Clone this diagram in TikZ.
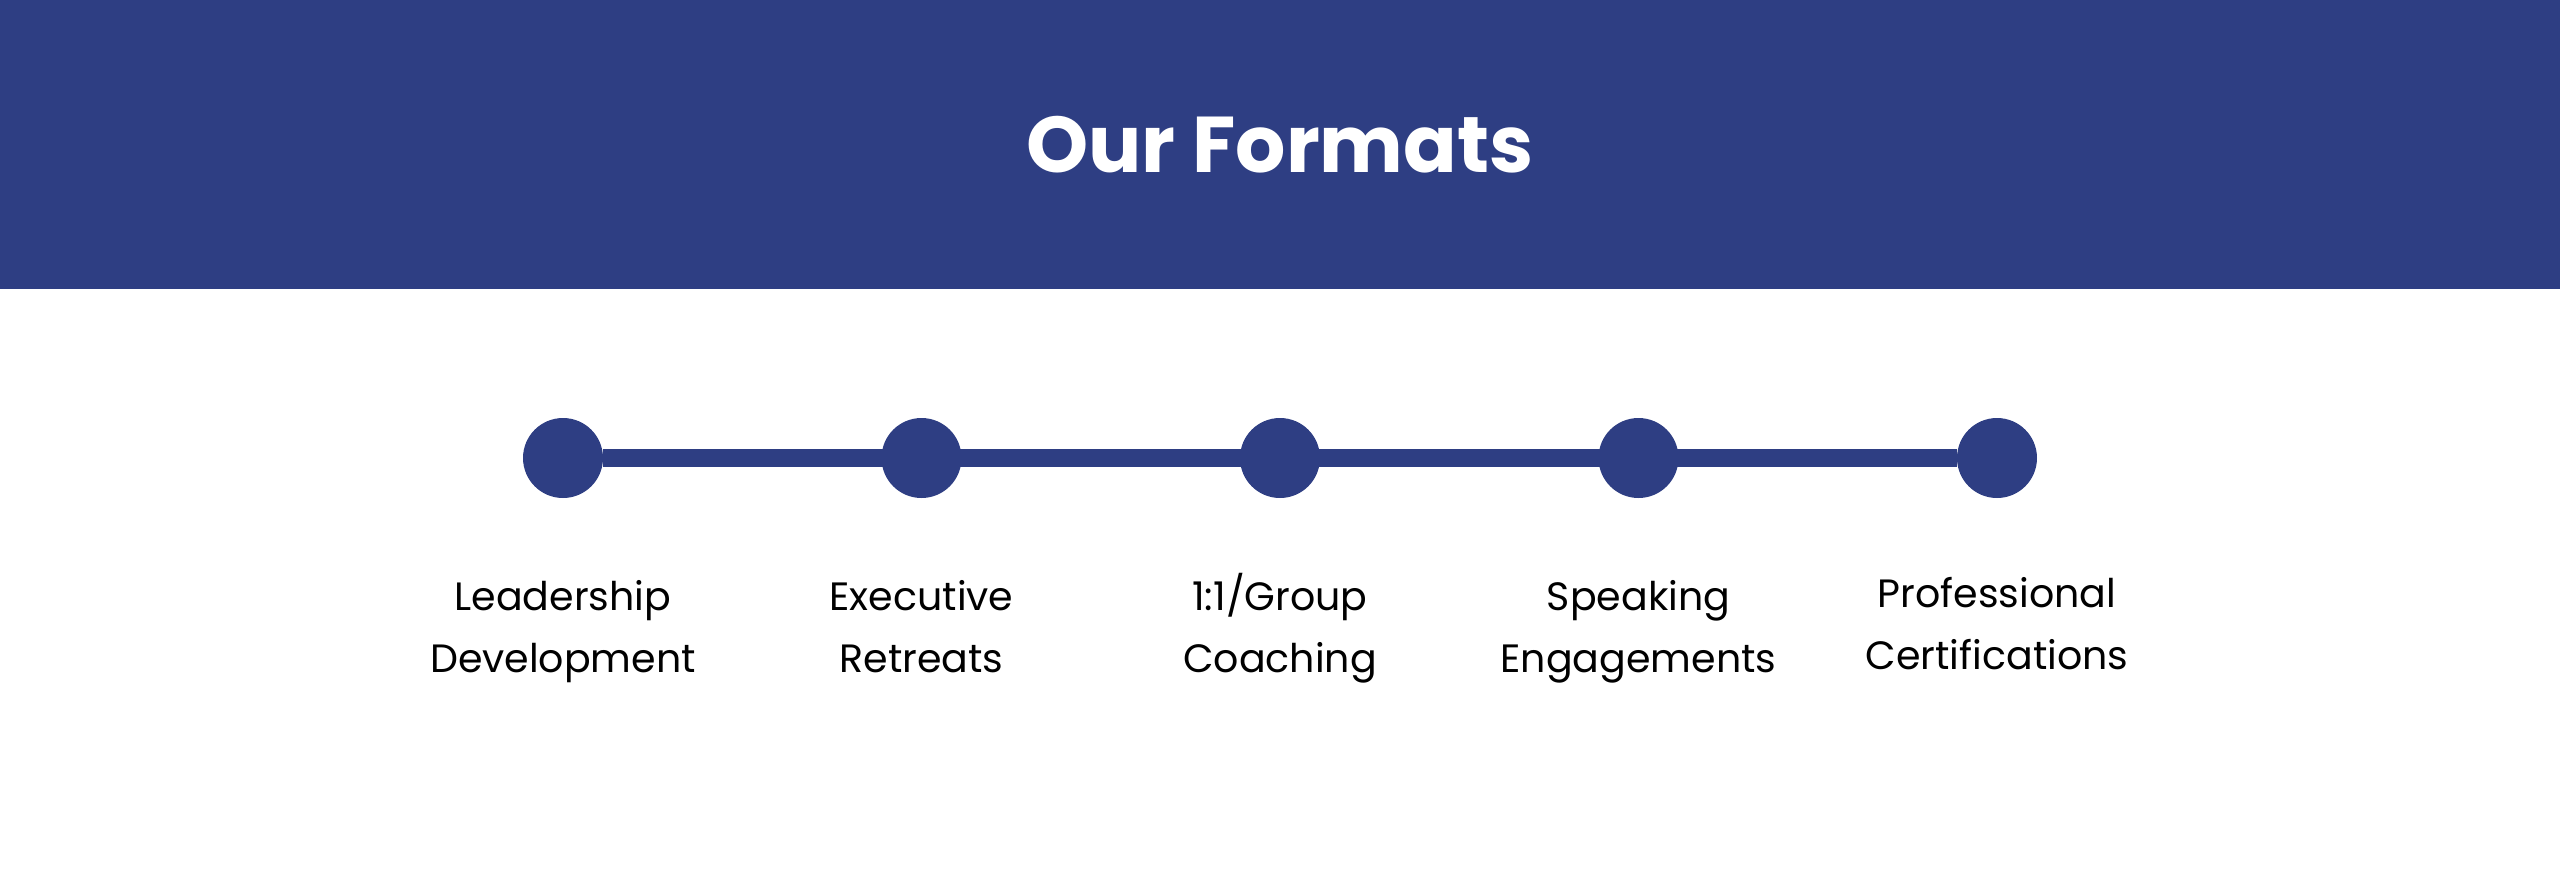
\documentclass[tikz,border=0pt]{standalone}
\usepackage{fontspec}
\setmainfont{Poppins}
\usetikzlibrary{positioning}
\definecolor{formatblue}{RGB}{46,62,131}

\begin{document}
\begin{tikzpicture}
  [
  x=0.1mm, y=-0.1mm,
  header/.style={fill=formatblue, text=white, minimum width=256mm, minimum height=28.9mm, inner sep=0pt, font=\fontsize{22.5pt}{27pt}\selectfont\bfseries},
  dot/.style={circle, fill=formatblue, minimum size=8mm, inner sep=0pt, outer sep=0pt},
  track/.style={draw=formatblue, line width=1.8mm},
  fmtlabel/.style={align=center, inner sep=0pt, text height=8pt, font=\fontsize{11.25pt}{17.6pt}\selectfont},
  node distance=27.85mm
  ]
  \useasboundingbox (0,0) rectangle (2560,894);
  \node[header] (title) at (1280,144.5) {Our Formats};
  \node[dot] (c1) at (563,458) {};
  \node[dot, right=of c1] (c2) {};
  \node[dot, right=of c2] (c3) {};
  \node[dot, right=of c3] (c4) {};
  \node[dot, right=of c4] (c5) {};
  \draw[track] (c1) -- (c5);
  \node[fmtlabel, below=14.6mm of c1] (l1) {Leadership\\Development};
  \node[fmtlabel, below=14.6mm of c2] (l2) {Executive\\Retreats};
  \node[fmtlabel, below=14.6mm of c3] (l3) {1:1/Group\\Coaching};
  \node[fmtlabel, below=14.6mm of c4] (l4) {Speaking\\Engagements};
  \node[fmtlabel, below=14.3mm of c5] (l5) {Professional\\Certifications};
\end{tikzpicture}
\end{document}
